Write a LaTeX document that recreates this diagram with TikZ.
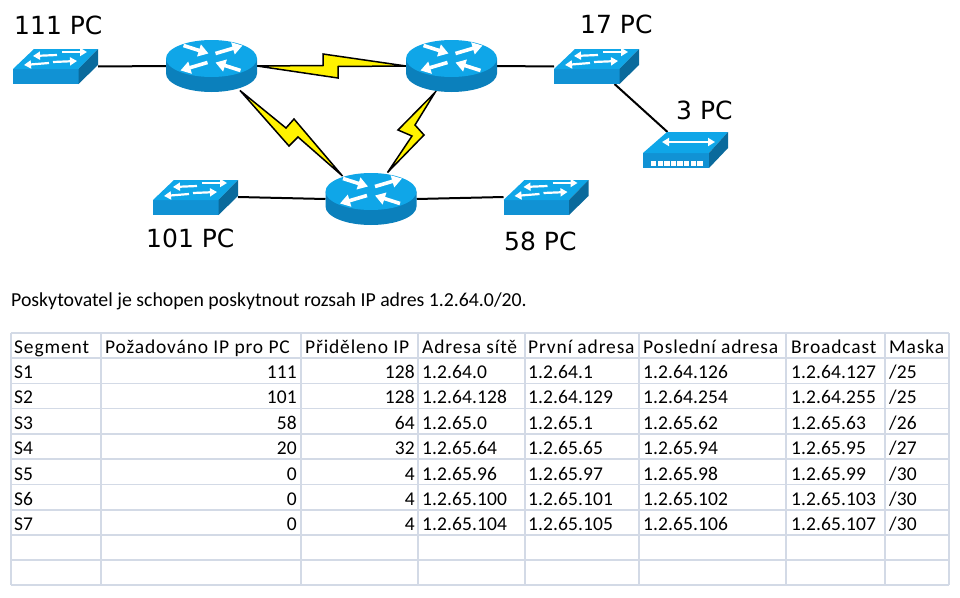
\documentclass[tikz,border=0pt]{standalone}
\usepackage{fontspec}
\setmainfont{Carlito}
\newfontfamily\labelfont{DejaVu Sans}
\newfontfamily\cellfont[LetterSpace=0.5]{Carlito}
\newfontfamily\headfont[LetterSpace=4.4]{Carlito}
\usetikzlibrary{arrows.meta}
\definecolor{topblue}{HTML}{0FA6E8}
\definecolor{frontblue}{HTML}{1192D4}
\definecolor{sideblue}{HTML}{0A6A9C}
\definecolor{bodyblue}{HTML}{0B80BC}
\definecolor{gridc}{HTML}{D3DAE6}
\definecolor{boltc}{HTML}{FFF200}
\tikzset{
  x=1pt,y=-1pt,
  holder/.style={inner sep=0pt,outer sep=0pt,minimum width=#1},
  link/.style={draw=black,line width=2pt},
  bolt/.style={draw=black,fill=boltc,line width=1.5pt,line join=miter},
  pclabel/.style={font=\labelfont\fontsize{25}{25}\selectfont,text=black,inner sep=0pt,anchor=base west},
  cell/.style={font=\cellfont\fontsize{19.5}{20}\selectfont,text=black,inner sep=0pt,anchor=base west},
  headcell/.style={font=\headfont\fontsize{19.5}{20}\selectfont,text=black,inner sep=0pt,anchor=base west},
  num/.style={font=\cellfont\fontsize{19.5}{20}\selectfont,text=black,inner sep=0pt,anchor=base east},
  introtext/.style={font=\fontsize{19.8}{20}\selectfont,text=black,inner sep=0pt,anchor=base west},
  grid/.style={draw=gridc,line width=1.1pt},
  wharrow/.style={draw=white,line width=3.6pt,-{Triangle[width=12pt,length=10pt]}},
  swarrow/.style={draw=white,line width=2.2pt,-{Triangle[width=8pt,length=7pt]}},
  router/.pic={
    \fill[bodyblue] (-45.5,0) -- (-45.5,15) arc[start angle=180,end angle=0,x radius=45.5,y radius=18.5] -- (45.5,0) -- cycle;
    \fill[topblue] (0,0) ellipse[x radius=45.5,y radius=18.5];
    \draw[wharrow] (-28,-13) -- (-3,-5);
    \draw[wharrow] (4,-5) -- (31,-13);
    \draw[wharrow] (-4,4) -- (-31,12);
    \draw[wharrow] (29,12) -- (4,4);
  },
  switch/.pic={
    \fill[frontblue] (0,0) rectangle (65.5,15);
    \fill[topblue] (0,0) -- (65.5,0) -- (85,-20) -- (21,-20) -- cycle;
    \fill[sideblue] (65.5,0) -- (85,-20) -- (85,-4) -- (65.5,15) -- cycle;
    \draw[swarrow] (44,-14) -- (20,-13);
    \draw[swarrow] (49,-17) -- (74,-17);
    \draw[swarrow] (36,-6) -- (11,-4);
    \draw[swarrow] (40,-7) -- (64,-8);
  },
  hubicon/.pic={
    \fill[frontblue] (0,0) rectangle (66,15);
    \fill[topblue] (0,0) -- (66,0) -- (85,-21) -- (24,-21) -- cycle;
    \fill[sideblue] (66,0) -- (85,-21) -- (85,-5) -- (66,15) -- cycle;
    \draw[draw=white,line width=2.2pt,{Triangle[width=8pt,length=7pt]}-{Triangle[width=8pt,length=7pt]}] (19,-11) -- (72,-11);
    \foreach \k in {0,...,7} \fill[white] (8+\k*6.6,8) rectangle ++(5.4,4.5);
  }
}
\begin{document}
\begin{tikzpicture}
\useasboundingbox (0,0) rectangle (960,597);
\fill[white] (0,0) rectangle (960,597);
% holders
\node[holder=91pt,minimum height=53pt] (r1) at (211.5,66) {};
\node[holder=91pt,minimum height=53pt] (r2) at (451.5,66) {};
\node[holder=91pt,minimum height=53pt] (r3) at (371,199) {};
\node[holder=85pt,minimum height=35pt] (s111) at (55.5,66.5) {};
\node[holder=85pt,minimum height=35pt] (s17) at (596.5,66.5) {};
\node[holder=85pt,minimum height=36pt] (s58) at (546,197) {};
\node[holder=85pt,minimum height=36pt] (s101) at (195.5,197) {};
\node[holder=85pt,minimum height=36pt] (h3) at (685.5,150) {};
% connectors
\draw[link] (s111.east) -- (r1.west);
\draw[link] (r2.east) -- (s17.west);
\draw[link] ([xshift=18pt]s17.south) -- ([xshift=-18pt]h3.north);
\draw[link] (s101.east) -- (r3.west);
\draw[link] (r3.east) -- (s58.west);
\path[bolt] (r1.east) -- (323,65.5) -- (323,54) -- (r2.west) -- (338,66.5) -- (338,78) -- cycle;
\path[bolt] ([shift={(-17,-2)}]r1.south east) -- (286,128) -- (294,119) -- ([shift={(17,3.5)}]r3.north west) -- (298,137) -- (289,146) -- cycle;
\path[bolt] ([xshift=29pt]r2.south west) -- (398,130) -- (412,136) -- ([xshift=-29pt]r3.north east) -- (424,135) -- (415,125) -- cycle;
% devices
\pic at (211.5,58.5) {router};
\pic at (451.5,58.5) {router};
\pic at (371,191.5) {router};
\pic at (13,69) {switch};
\pic at (554,69) {switch};
\pic at (503.5,200) {switch};
\pic at (153,200) {switch};
\pic at (643,153) {hubicon};
% labels
\node[pclabel] (l111) at (14,34) {111 PC};
\node[pclabel] (l17) at (580,33) {17 PC};
\node[pclabel] (l3) at (676,119) {3 PC};
\node[pclabel] (l58) at (504,250) {58 PC};
\node[pclabel] (l101) at (146,247) {101 PC};
\node[introtext] (intro) at (11,306) {Poskytovatel je schopen poskytnout rozsah IP adres 1.2.64.0/20.};
% grid
\foreach \yy in {333,358,383.5,408.5,434,459,484.5,510,535,560,585}
  \draw[grid] (11,\yy) -- (949,\yy);
\foreach \xx in {11,101,301,418,525,639,786,885,949}
  \draw[grid] (\xx,333) -- (\xx,585);
% header
\foreach \xx/\tt in {14/Segment,105/{Požadováno IP pro PC},305/{Přiděleno IP},422/{Adresa sítě},528/{První adresa},643/{Poslední adresa},791/Broadcast,889/Maska}
  \node[headcell] at (\xx,353) {\tt};
% rows
\foreach \yy/\sa/\pc/\ip/\net/\first/\last/\bc/\mask in {
 378/S1/111/128/1.2.64.0/1.2.64.1/1.2.64.126/1.2.64.127/{/25},
 403/S2/101/128/1.2.64.128/1.2.64.129/1.2.64.254/1.2.64.255/{/25},
 429/S3/58/64/1.2.65.0/1.2.65.1/1.2.65.62/1.2.65.63/{/26},
 454/S4/20/32/1.2.65.64/1.2.65.65/1.2.65.94/1.2.65.95/{/27},
 480/S5/0/4/1.2.65.96/1.2.65.97/1.2.65.98/1.2.65.99/{/30},
 505/S6/0/4/1.2.65.100/1.2.65.101/1.2.65.102/1.2.65.103/{/30},
 530/S7/0/4/1.2.65.104/1.2.65.105/1.2.65.106/1.2.65.107/{/30}}{
  \node[cell] at (14,\yy) {\sa};
  \node[num] at (297,\yy) {\pc};
  \node[num] at (415,\yy) {\ip};
  \node[cell] at (422,\yy) {\net};
  \node[cell] at (528,\yy) {\first};
  \node[cell] at (643,\yy) {\last};
  \node[cell] at (791,\yy) {\bc};
  \node[cell] at (889,\yy) {\mask};
}
\end{tikzpicture}
\end{document}
